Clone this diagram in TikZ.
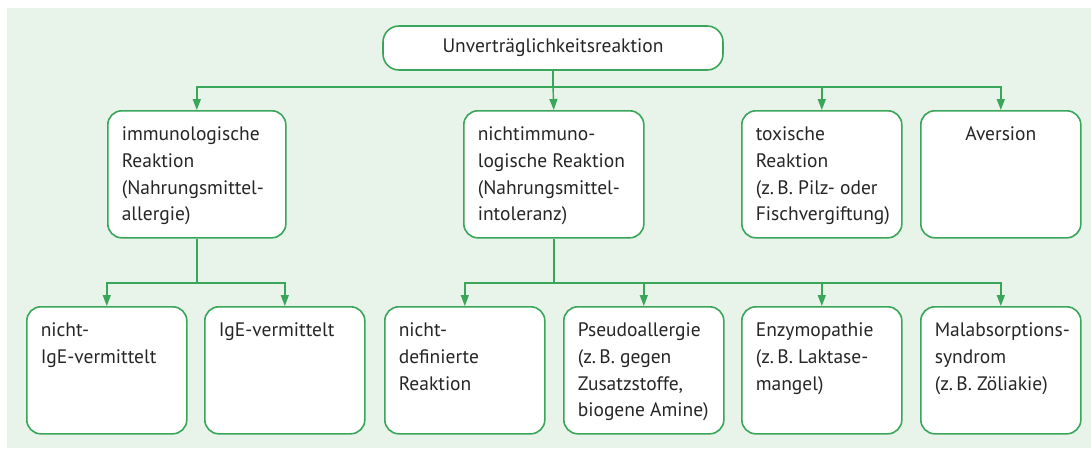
\documentclass[tikz,border=0pt]{standalone}
\usepackage{fontspec}
\setmainfont{PT Sans}
\usetikzlibrary{arrows.meta}
\definecolor{gr}{HTML}{3AA65A}
\definecolor{bg}{HTML}{E8F3EA}
\definecolor{tx}{HTML}{262626}
\newcommand{\bt}[2]{\parbox[c][127pt][t]{#1}{\raggedright\hyphenpenalty=10000 \exhyphenpenalty=10000 \hbadness=10000 \hfuzz=20pt \rule{0pt}{30pt}#2}}
\tikzset{
  box/.style={draw=gr, line width=1.6pt, rounded corners=14pt, fill=white, inner xsep=14pt, inner ysep=0pt, anchor=north west, text=tx},
  conn/.style={draw=gr, line width=1.4pt},
  arr/.style={conn, -{Triangle[length=11pt,width=8pt]}},
}
\begin{document}
\begin{tikzpicture}[x=1pt,y=-1pt,font=\fontsize{19.5}{26.7}\selectfont]
\useasboundingbox (0,0) rectangle (1091,448);
\fill[bg] (7,8) rectangle (1091,448);
% top
\node[draw=gr, line width=1.6pt, rounded corners=16pt, fill=white, minimum width=340pt, minimum height=44pt, text=tx] (top) at (553,48) {Unverträglichkeitsreaktion};
% level 2
\node[box] (imm) at (107,110) {\bt{150pt}{immunologische\\Reaktion\\(Nahrungsmittel-\\allergie)}};
\node[box] (nim) at (463,110) {\bt{152pt}{nichtimmuno-\\logische Reaktion\\(Nahrungsmittel-\\intoleranz)}};
\node[box] (tox) at (741,110) {\bt{132pt}{toxische\\Reaktion\\(z.\,B. Pilz- oder\\Fischvergiftung)}};
\node[box] (ave) at (920,110) {\bt{132pt}{\centering\rule{0pt}{30pt}Aversion}};
% level 3
\node[box] (nige) at (26,306) {\bt{132pt}{nicht-\\IgE-vermittelt}};
\node[box] (ige) at (204,306) {\bt{132pt}{IgE-vermittelt}};
\node[box] (nde) at (384,306) {\bt{132pt}{nicht-\\definierte\\Reaktion}};
\node[box] (pse) at (563,306) {\bt{132pt}{Pseudoallergie\\(z.\,B. gegen\\Zusatzstoffe,\\biogene Amine)}};
\node[box] (enz) at (741,306) {\bt{132pt}{Enzymopathie\\(z.\,B. Laktase-\\mangel)}};
\node[box] (mal) at (920,306) {\bt{132pt}{Malabsorptions-\\syndrom\\(z.\,B. Zöliakie)}};
% connectors
\coordinate (j1) at (553,87);
\draw[conn] (top.south) -- (j1);
\draw[arr] (j1) -| (imm.north);
\draw[arr] (j1) -- (nim.north);
\draw[arr] (j1) -| (tox.north);
\draw[arr] (j1) -| (ave.north);
\coordinate (j2) at (imm.south |- 0,283);
\draw[conn] (imm.south) -- (j2);
\draw[arr] (j2) -| (nige.north);
\draw[arr] (j2) -| (ige.north);
\coordinate (j3) at (nim.south |- 0,283);
\draw[conn] (nim.south) -- (j3);
\draw[arr] (j3) -| (nde.north);
\draw[arr] (j3) -| (pse.north);
\draw[arr] (j3) -| (enz.north);
\draw[arr] (j3) -| (mal.north);
\end{tikzpicture}
\end{document}
